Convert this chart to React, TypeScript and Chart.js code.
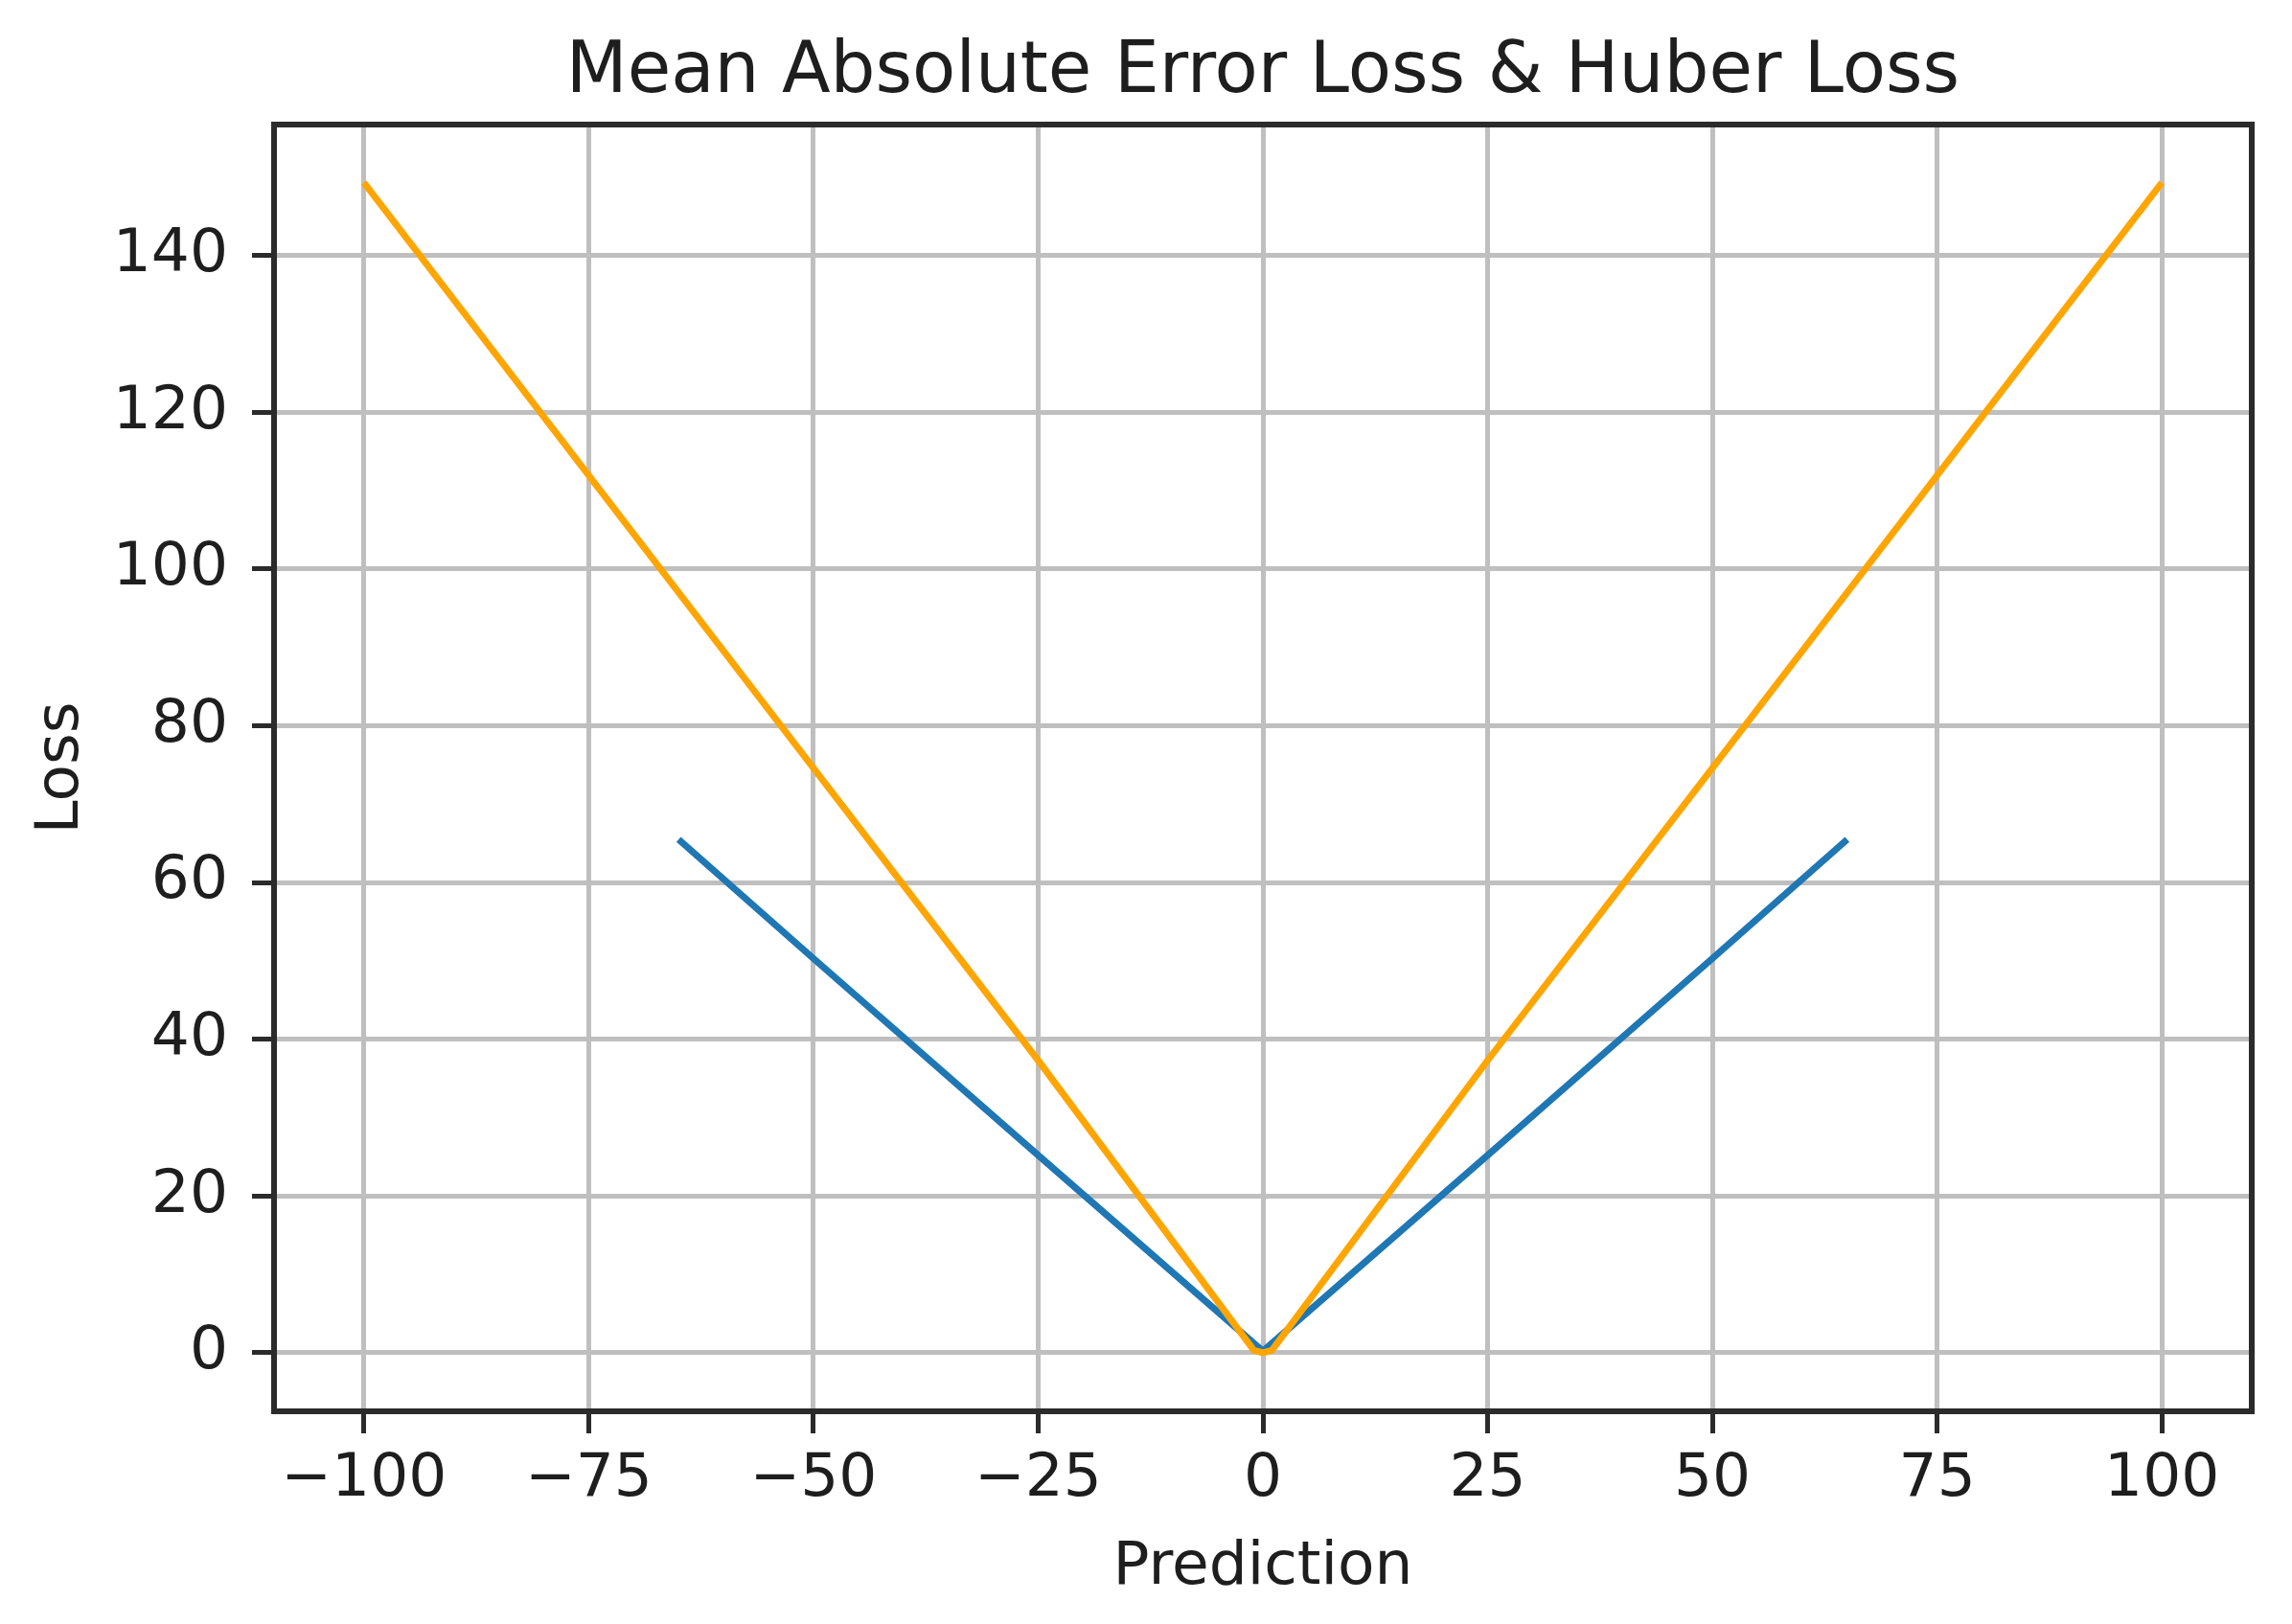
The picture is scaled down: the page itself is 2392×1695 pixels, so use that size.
import React, { useEffect, useRef } from "react";
import { Chart, registerables } from "chart.js";

Chart.register(...registerables);

const titleText = "Mean Absolute Error Loss & Huber Loss";
const xLabel = "Prediction";
const yLabel = "Loss";

const xTicks = [-100, -75, -50, -25, 0, 25, 50, 75, 100];
const yTicks = [0, 20, 40, 60, 80, 100, 120, 140];

// blue series
const blueX = [-65, -50, -25, 0, 25, 50, 65];
const blueY = [65.5, 50.3, 25.2, 0.2, 25.2, 50.3, 65.5];
// orange series
const orangeX = [-100, -50, -25, -1, 0, 1, 25, 50, 100];
const orangeY = [149.3, 74.6, 37.3, 0.3, 0, 0.3, 37.3, 74.6, 149.3];

const xMin = -110;
const xMax = 110;
const yMin = -7.47;
const yMax = 156.7;

const FONT = "DejaVu Sans";
const TEXT = "#1e1e1e";
const SPINE = "#2b2b2b";
const GRID = "#bfbfbf";

export default function App() {
  const ref = useRef<HTMLCanvasElement | null>(null);

  useEffect(() => {
    if (!ref.current) return;
    const fmt = (v: number) => (v < 0 ? "\u2212" + Math.abs(v) : String(v));

    const framePlugin = {
      id: "frame",
      afterDraw(chart: any) {
        const { ctx, chartArea } = chart;
        const { left, right, top, bottom } = chartArea;
        ctx.save();
        ctx.strokeStyle = SPINE;
        ctx.lineWidth = 6;
        ctx.beginPath();
        ctx.moveTo(left, top);
        ctx.lineTo(right, top);
        ctx.lineTo(right, bottom);
        ctx.lineTo(left, bottom);
        ctx.closePath();
        ctx.stroke();
        ctx.fillStyle = TEXT;
        ctx.font = `74px "${FONT}"`;
        ctx.textAlign = "center";
        ctx.textBaseline = "alphabetic";
        ctx.fillText(titleText, (left + right) / 2, 96);
        ctx.restore();
      },
    };

    const chart = new Chart(ref.current, {
      type: "line",
      data: {
        datasets: [
          {
            label: "blue",
            data: blueX.map((x, i) => ({ x, y: blueY[i] })),
            borderColor: "#1f77b4",
            backgroundColor: "#1f77b4",
            borderWidth: 7,
            pointRadius: 0,
            tension: 0,
            order: 1,
          },
          {
            label: "orange",
            data: orangeX.map((x, i) => ({ x, y: orangeY[i] })),
            borderColor: "#ffa500",
            backgroundColor: "#ffa500",
            borderWidth: 7,
            pointRadius: 0,
            tension: 0,
            order: 0,
          },
        ],
      },
      options: {
        responsive: false,
        animation: false,
        events: [],
        layout: { padding: { top: 130, right: 42, left: 0, bottom: 0 } },
        plugins: {
          legend: { display: false },
          title: { display: false },
          tooltip: { enabled: false },
        },
        scales: {
          x: {
            type: "linear",
            min: xMin,
            max: xMax,
            afterBuildTicks: (s: any) => {
              s.ticks = xTicks.map((v) => ({ value: v }));
            },
            afterFit: (s: any) => {
              s.height = 222;
            },
            grid: {
              color: GRID,
              lineWidth: 5,
              tickLength: 23,
              tickColor: SPINE,
              tickWidth: 5,
            },
            border: { display: true, color: SPINE, width: 6 },
            ticks: {
              autoSkip: false,
              maxRotation: 0,
              padding: 11,
              color: TEXT,
              font: { family: FONT, size: 63 },
              callback: (v: any) => fmt(Number(v)),
            },
            title: {
              display: true,
              text: xLabel,
              color: TEXT,
              font: { family: FONT, size: 63 },
              padding: { top: 0, bottom: 21 },
            },
          },
          y: {
            type: "linear",
            min: yMin,
            max: yMax,
            afterBuildTicks: (s: any) => {
              s.ticks = yTicks.map((v) => ({ value: v }));
            },
            afterFit: (s: any) => {
              s.width = 286;
            },
            grid: {
              color: GRID,
              lineWidth: 5,
              tickLength: 23,
              tickColor: SPINE,
              tickWidth: 5,
            },
            border: { display: true, color: SPINE, width: 6 },
            ticks: {
              autoSkip: false,
              padding: 25,
              color: TEXT,
              font: { family: FONT, size: 63 },
              callback: (v: any) => fmt(Number(v)),
            },
            title: {
              display: true,
              text: yLabel,
              color: TEXT,
              font: { family: FONT, size: 63 },
              padding: { top: 27, bottom: 0 },
            },
          },
        },
      },
      plugins: [framePlugin],
    });
    return () => chart.destroy();
  }, []);

  return (
    <div style={{ position: "fixed", left: 0, top: 0, width: 2392, height: 1695, background: "#fff" }}>
      <canvas ref={ref} width={2392} height={1695} style={{ width: 2392, height: 1695 }} />
    </div>
  );
}
